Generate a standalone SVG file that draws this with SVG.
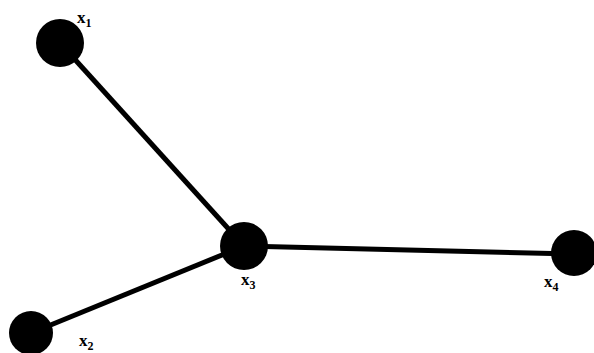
<svg xmlns="http://www.w3.org/2000/svg" width="594" height="353" viewBox="0 0 594 353">
<style>
.node{fill:#000}
.edge{stroke:#000;stroke-width:5;fill:none;stroke-linecap:butt}
.lbl{font-family:"Liberation Serif",serif;font-weight:bold;font-size:17px;fill:#000}
.sub{font-size:12px}
</style>
<rect width="594" height="353" fill="#fff"/>
<g id="edges">
<line class="edge" x1="60" y1="43" x2="244" y2="246"/>
<line class="edge" x1="244" y1="246" x2="31" y2="333"/>
<line class="edge" x1="244" y1="246" x2="574" y2="254"/>
</g>
<g id="x1">
<circle class="node" cx="60" cy="43" r="24"/>
<text class="lbl" x="77" y="23">x<tspan class="sub" dy="4">1</tspan></text>
</g>
<g id="x2">
<circle class="node" cx="31" cy="333" r="22"/>
<text class="lbl" x="79" y="346">x<tspan class="sub" dy="4">2</tspan></text>
</g>
<g id="x3">
<circle class="node" cx="244" cy="246" r="24"/>
<text class="lbl" x="241" y="285">x<tspan class="sub" dy="4">3</tspan></text>
</g>
<g id="x4">
<circle class="node" cx="574" cy="253" r="23"/>
<text class="lbl" x="544" y="287">x<tspan class="sub" dy="4">4</tspan></text>
</g>
</svg>
